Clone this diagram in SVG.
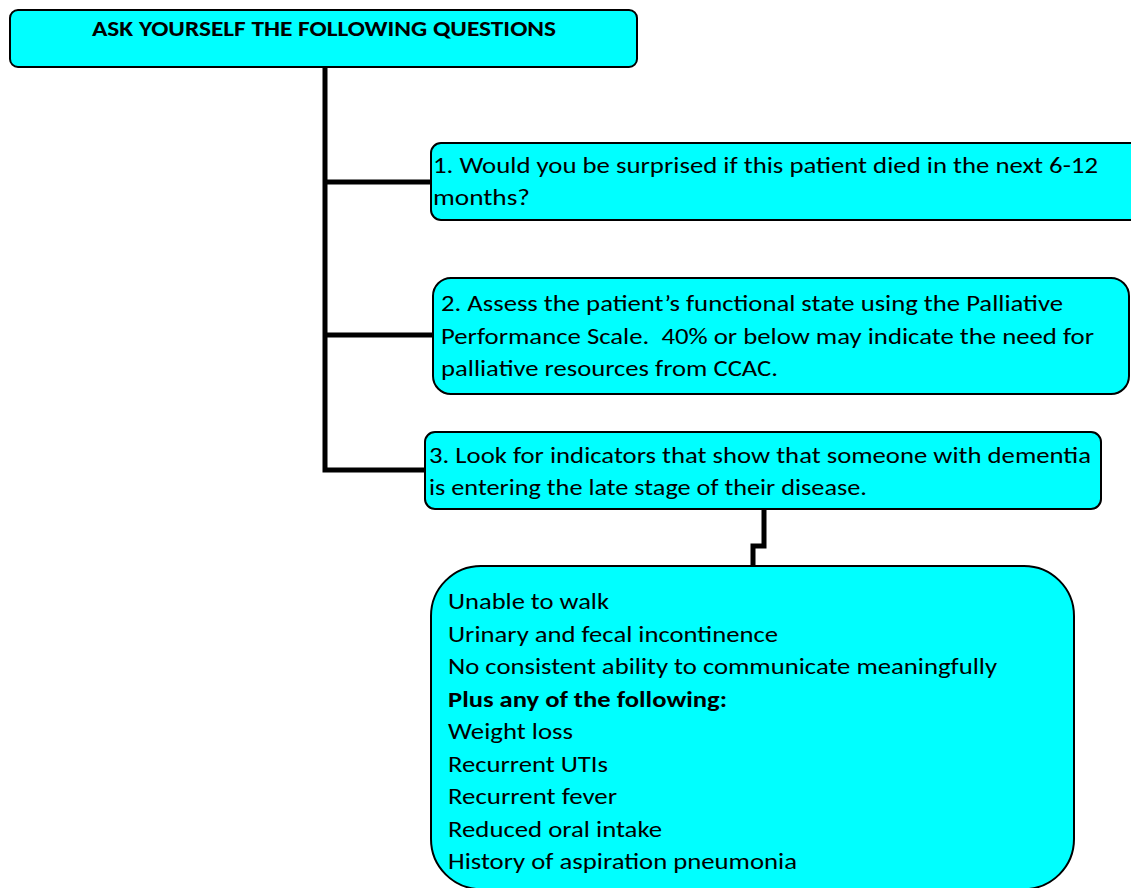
<svg xmlns="http://www.w3.org/2000/svg" width="1131" height="888" viewBox="0 0 1131 888">
<style>
.box{fill:#00FFFF;stroke:#000;stroke-width:2}
.t{font-family:Calibri,Carlito,"Noto Sans","Open Sans",sans-serif;font-size:22px;fill:#000;white-space:pre}
.b{font-weight:bold}
.c{fill:none;stroke:#000;stroke-width:5;stroke-linejoin:miter}
</style>
<rect width="1131" height="888" fill="#fff"/>
<g id="connectors">
<path class="c" d="M325,67 V470 H425"/>
<path class="c" d="M325,182 H431"/>
<path class="c" d="M325,335 H433"/>
<path class="c" d="M764,509 V546 H753 V566"/>
</g>
<g id="title">
<rect class="box" x="10" y="10" width="627" height="57" rx="8"/>
<text class="t b" x="92" y="36" font-size="18" textLength="464" lengthAdjust="spacingAndGlyphs">ASK YOURSELF THE FOLLOWING QUESTIONS</text>
</g>
<g id="q1">
<rect class="box" x="431" y="143" width="720" height="77" rx="10"/>
<text class="t" x="433" y="173" textLength="665" lengthAdjust="spacingAndGlyphs">1. Would you be surprised if this patient died in the next 6-12</text>
<text class="t" x="433" y="205" textLength="97" lengthAdjust="spacingAndGlyphs">months?</text>
</g>
<g id="q2">
<rect class="box" x="433" y="278" width="696" height="116" rx="18"/>
<text class="t" x="441" y="311" textLength="622" lengthAdjust="spacingAndGlyphs">2. Assess the patient’s functional state using the Palliative</text>
<text class="t" x="441" y="343.5" textLength="653" lengthAdjust="spacingAndGlyphs" xml:space="preserve">Performance Scale.  40% or below may indicate the need for</text>
<text class="t" x="441" y="376" textLength="337" lengthAdjust="spacingAndGlyphs">palliative resources from CCAC.</text>
</g>
<g id="q3">
<rect class="box" x="425" y="432" width="676" height="77" rx="10"/>
<text class="t" x="429" y="463" textLength="662" lengthAdjust="spacingAndGlyphs">3. Look for indicators that show that someone with dementia</text>
<text class="t" x="429" y="495" textLength="438" lengthAdjust="spacingAndGlyphs">is entering the late stage of their disease.</text>
</g>
<g id="indicators">
<rect class="box" x="431" y="566" width="643" height="323" rx="50"/>
<text class="t" x="448" y="609" textLength="161" lengthAdjust="spacingAndGlyphs">Unable to walk</text>
<text class="t" x="448" y="641.5" textLength="330" lengthAdjust="spacingAndGlyphs">Urinary and fecal incontinence</text>
<text class="t" x="448" y="674" textLength="549" lengthAdjust="spacingAndGlyphs">No consistent ability to communicate meaningfully</text>
<text class="t b" x="448" y="706.5" textLength="279" lengthAdjust="spacingAndGlyphs">Plus any of the following:</text>
<text class="t" x="448" y="739" textLength="125" lengthAdjust="spacingAndGlyphs">Weight loss</text>
<text class="t" x="448" y="771.5" textLength="160" lengthAdjust="spacingAndGlyphs">Recurrent UTIs</text>
<text class="t" x="448" y="804" textLength="169" lengthAdjust="spacingAndGlyphs">Recurrent fever</text>
<text class="t" x="448" y="836.5" textLength="214" lengthAdjust="spacingAndGlyphs">Reduced oral intake</text>
<text class="t" x="448" y="869" textLength="349" lengthAdjust="spacingAndGlyphs">History of aspiration pneumonia</text>
</g>
</svg>
